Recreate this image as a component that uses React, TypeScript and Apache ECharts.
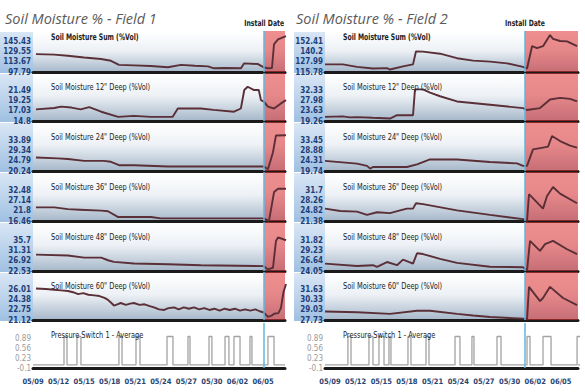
import React, { useEffect, useRef } from 'react';
import * as echarts from 'echarts';

// ---------- DATA ----------
const xTickDays = [0, 3, 6, 9, 12, 15, 18, 21, 24, 27];
const xTickLabels = ['05/09', '05/12', '05/15', '05/18', '05/21', '05/24', '05/27', '05/30', '06/02', '06/05'];

const fieldTitles = ['Soil Moisture % - Field 1', 'Soil Moisture % - Field 2'];
const installLabel = 'Install Date';
const installDays = [27.13, 22.8];

const rowTitles = [
  'Soil Moisture Sum (%Vol)',
  'Soil Moisture 12" Deep (%Vol)',
  'Soil Moisture 24" Deep (%Vol)',
  'Soil Moisture 36" Deep (%Vol)',
  'Soil Moisture 48" Deep (%Vol)',
  'Soil Moisture 60" Deep (%Vol)',
];
const pressureTitle = 'Pressure Switch 1 - Average';

const f1Ticks = [
  [97.79, 113.67, 129.55, 145.43],
  [14.8, 17.03, 19.25, 21.49],
  [20.24, 24.79, 29.34, 33.89],
  [16.46, 21.8, 27.14, 32.48],
  [22.53, 26.92, 31.31, 35.7],
  [21.12, 22.75, 24.38, 26.01],
];
const f2Ticks = [
  [115.78, 127.99, 140.2, 152.41],
  [19.26, 23.63, 27.98, 32.33],
  [19.74, 24.31, 28.88, 33.45],
  [21.38, 24.82, 28.26, 31.7],
  [24.05, 26.64, 29.23, 31.82],
  [27.73, 29.03, 30.33, 31.63],
];
const pressureTicks = [-0.1, 0.23, 0.56, 0.89];
const pulseHigh = 0.94;
const pulseLow = 0;

// Field 1 series: [day since 05/09, %Vol]
const f1Sum = [[0.35, 125.3], [2.5, 124.5], [4.07, 122.7], [6, 120], [7.98, 117.7], [9.15, 115], [10.09, 108.7], [11.85, 108], [13.8, 107], [15.85, 105], [17.37, 108.7], [19, 107.5], [20.54, 106.5], [21.24, 103.5], [22.5, 104], [24.41, 103.5], [24.77, 111], [26.41, 110], [27.1, 105], [27.58, 103.5], [28.05, 104], [28.29, 140.4], [28.76, 148], [29.7, 153]];
const f1D12 = [[0.35, 17.3], [2.5, 17.6], [3.3, 17.9], [4.5, 17.7], [5.6, 17.3], [6.6, 17.8], [8, 16.8], [10, 15.7], [11.85, 15.9], [13.85, 15.7], [16.4, 15.7], [17.0, 17.5], [19.7, 17.5], [21.2, 17.2], [23.6, 16.8], [24.4, 17.5], [24.8, 21.5], [25.2, 22.2], [25.9, 21.5], [26.5, 21.5], [26.76, 19.3], [27.1, 19.0], [27.58, 17.9], [28.3, 17.5], [29.1, 18.6], [29.7, 19.3]];
const f1D24 = [[0.35, 26.2], [2.9, 25.8], [4.1, 25.5], [6, 24.7], [8.3, 24.7], [9.15, 24.3], [10.1, 22.8], [11.85, 22.8], [15.85, 22.2], [19.7, 22.2], [27.1, 22.2], [27.58, 21.0], [28.17, 28.5], [28.52, 35.9], [29.7, 36.0]];
const f1D36 = [[0.35, 23.5], [2.5, 23.5], [4.1, 22.6], [5.5, 22.3], [8, 21.8], [8.8, 21.5], [10, 18.5], [13.85, 18.5], [15, 17.8], [27.1, 17.8], [27.7, 16.5], [28.3, 31.5], [28.76, 33.1], [29.7, 33.1]];
const f1D48 = [[0.35, 29.5], [4.1, 29.1], [6, 28.2], [8, 28.2], [8.8, 27.1], [9.5, 26.4], [11.85, 25.7], [15.85, 25.4], [19.7, 25.0], [27.1, 24.6], [27.58, 23.2], [28.17, 23.9], [28.52, 35.3], [28.76, 36.8], [29.7, 35.6]];
const f1D60 = [[0.35, 26.1], [1.5, 26.0], [2.5, 25.9], [3.3, 25.8], [4.1, 25.7], [4.7, 25.5], [5.3, 25.2], [5.9, 25.35], [6.5, 25.1], [7.2, 25.0], [7.8, 24.9], [8.4, 24.6], [8.8, 24.3], [9.2, 23.8], [9.5, 23.4], [9.9, 23.6], [10.3, 23.8], [10.9, 23.5], [11.4, 23.7], [11.85, 23.8], [12.5, 23.5], [13.1, 23.6], [13.7, 23.3], [14.2, 23.1], [14.8, 22.8], [15.4, 22.7], [15.9, 23.0], [16.55, 23.1], [17.1, 22.8], [17.7, 23.1], [18.3, 22.9], [18.9, 23.1], [19.5, 22.8], [20.1, 23.0], [20.7, 22.7], [21.3, 22.9], [21.9, 22.6], [22.5, 22.9], [23.1, 22.7], [23.7, 22.9], [24.3, 22.6], [24.9, 22.8], [25.5, 22.6], [26.1, 22.8], [26.6, 22.5], [27.1, 22.3], [27.58, 21.6], [28.0, 21.8], [28.3, 22.1], [28.8, 22.2], [29.1, 23.0], [29.4, 25.5], [29.7, 26.8]];

// Field 2 series
const f2Sum = [[-0.58, 124.8], [1.5, 124.8], [3.16, 121.9], [5.03, 119.9], [6.67, 120.3], [7.02, 118.7], [8.54, 122.5], [9.71, 124.8], [10.06, 140.2], [10.88, 139.8], [12.87, 137.4], [14.85, 132.1], [16.73, 129.2], [18.71, 128], [20.7, 126], [22.57, 121.9], [23.04, 119.9], [23.63, 146.3], [24.21, 144], [24.91, 146.3], [25.73, 159.4], [26.08, 155], [26.9, 152.4], [27.72, 152], [28.89, 146.3]];
const f2D12 = [[-0.58, 21.0], [1.5, 21.2], [2.3, 20.8], [3.16, 20.9], [5, 20.6], [7.02, 20.3], [7.84, 21.7], [9.71, 21.7], [9.94, 32.6], [10.88, 32.6], [11.7, 31.2], [12.87, 29.7], [14.85, 27.5], [18.71, 26.1], [22.57, 24.7], [23.04, 23.9], [24.56, 24.7], [25.73, 28.3], [26.9, 29.0], [28.07, 28.6], [28.89, 27.5]];
const f2D24 = [[-0.58, 24.2], [3.16, 23.0], [4.33, 22.0], [4.7, 20.8], [5.03, 21.5], [9.0, 21.5], [10.18, 22.7], [11.7, 24.9], [14.85, 24.8], [18.71, 23.7], [21.87, 23.1], [22.57, 22.0], [23.04, 22.0], [23.74, 29.3], [24.91, 30.1], [25.5, 30.5], [25.96, 35.2], [26.9, 33.0], [28.07, 31.0], [28.89, 30.1]];
const f2D36 = [[-0.58, 25.5], [1.2, 24.7], [3.16, 24.5], [4.33, 23.4], [5.5, 24.3], [7.02, 24.0], [8.2, 24.9], [9.0, 25.5], [9.71, 25.5], [10.06, 27.3], [10.88, 27.0], [14.85, 24.9], [18.71, 23.4], [22.57, 22.0], [23.04, 21.4], [23.27, 30.3], [24.91, 25.5], [25.38, 29.7], [26.08, 32.7], [26.9, 30.5], [28.89, 27.3]];
const f2D48 = [[-0.58, 25.9], [3.16, 25.3], [5.03, 25.5], [5.5, 25.1], [6.67, 26.3], [7.84, 25.5], [8.54, 26.9], [9.71, 25.9], [10.18, 28.5], [10.88, 28.3], [12.87, 27.1], [14.85, 26.1], [18.71, 25.1], [22.57, 25.0], [23.04, 24.2], [23.39, 31.6], [24.56, 29.1], [25.15, 30.8], [26.08, 31.6], [27.72, 29.5], [28.89, 28.3]];
const f2D60 = [[-0.58, 28.8], [3.16, 28.7], [7.02, 28.5], [10.18, 28.9], [11.7, 28.9], [14.85, 28.5], [16.73, 28.3], [18.71, 28.1], [22.57, 27.9], [23.04, 27.8], [23.27, 31.9], [24.56, 30.1], [24.91, 30.5], [25.73, 31.9], [27.25, 30.5], [28.89, 29.6]];

// Pressure switch "on" intervals [start day, end day]
const f1Pulses = [[3.64, 3.99], [5.16, 5.63], [10.09, 10.45], [12.09, 12.56], [15.73, 16.43], [18.19, 18.43], [20.66, 21.0], [22.54, 23.0], [23.59, 24.3], [25.47, 25.7], [27.58, 28.29]];
const f2Pulses = [[2.1, 2.46], [4.56, 5.03], [5.73, 6.32], [6.9, 7.13], [9.12, 9.47], [11.23, 11.58], [14.62, 15.2], [16.6, 16.84], [19.53, 20.0], [23.04, 23.39], [24.91, 25.85], [28.89, 29.5]];

const fieldTicks = [f1Ticks, f2Ticks];
const fieldSeries = [
  [f1Sum, f1D12, f1D24, f1D36, f1D48, f1D60],
  [f2Sum, f2D12, f2D24, f2D36, f2D48, f2D60],
];
const fieldPulses = [f1Pulses, f2Pulses];

// ---------- LAYOUT ----------
const LAYOUT = [
  { stripX: 0, left: 33, right: 285, xMin: 0, xMax: 29.58, titleX: 5, subX: 51 },
  { stripX: 294, left: 325, right: 578, xMin: -0.58, xMax: 29.0, titleX: 296, subX: 343 },
];
const ROW_TOP = [31, 73, 122, 172, 222, 272];
const ROW_BASE = [72, 121, 171, 221, 271, 320];
const P_TOP = 323;
const P_BASE = 368;
const TICK_SPAN = 31;
const P_TICK_SPAN = 30;
const NARROW = '"DejaVu Sans Condensed", "DejaVu Sans", sans-serif';

function pulseData(pulses: number[][], xMin: number, xMax: number) {
  const out: number[][] = [[xMin, pulseLow]];
  pulses.forEach(([s, e]) => {
    out.push([s, pulseLow], [s, pulseHigh], [e, pulseHigh], [e, pulseLow]);
  });
  out.push([xMax, pulseLow]);
  return out;
}

function buildOption() {
  const grid: any[] = [];
  const xAxis: any[] = [];
  const yAxis: any[] = [];
  const series: any[] = [];
  const graphic: any[] = [];

  const stripGrad = () =>
    new echarts.graphic.LinearGradient(0, 0, 0, 1, [
      { offset: 0, color: '#d9e6f5' },
      { offset: 1, color: '#9fc0e2' },
    ]);
  const plotGrad = () =>
    new echarts.graphic.LinearGradient(0, 0, 0, 1, [
      { offset: 0, color: '#ffffff' },
      { offset: 0.45, color: '#edf1f5' },
      { offset: 1, color: '#a3b5c8' },
    ]);

  LAYOUT.forEach((L, f) => {
    const plotW = L.right - L.left;
    const installPx = L.left + ((installDays[f] - L.xMin) / (L.xMax - L.xMin)) * plotW;

    graphic.push({
      type: 'text', x: L.titleX, y: 18.5, z: 10,
      style: { text: fieldTitles[f], fill: '#5a5a5a', font: 'italic 14.5px "Open Sans", sans-serif', verticalAlign: 'middle' },
    });
    graphic.push({
      type: 'text', x: installPx, y: 23, z: 10, scaleX: 0.8,
      style: { text: installLabel, fill: '#222', font: `bold 8.5px ${NARROW}`, align: 'center', verticalAlign: 'middle' },
    });

    for (let r = 0; r < 7; r++) {
      const isP = r === 6;
      const top = isP ? P_TOP : ROW_TOP[r];
      const base = isP ? P_BASE : ROW_BASE[r];
      const h = base - top;
      const ticks = isP ? pressureTicks : fieldTicks[f][r];
      const span = isP ? P_TICK_SPAN : TICK_SPAN;
      const yMin = ticks[0];
      const yMax = ticks[0] + (h / span) * (ticks[3] - ticks[0]);
      const gi = grid.length;

      if (!isP) {
        graphic.push({
          type: 'rect', z: -10,
          shape: { x: L.stripX, y: top + 1, width: L.left - L.stripX, height: h },
          style: { fill: stripGrad() },
        });
        graphic.push({
          type: 'rect', z: -10,
          shape: { x: L.left, y: top + 1, width: plotW, height: h },
          style: { fill: plotGrad() },
        });
      }
      graphic.push({
        type: 'text', x: L.subX, y: isP ? 334.5 : base - 34.5, z: 10,
        scaleX: r === 0 ? 0.76 : 0.82,
        style: {
          text: isP ? pressureTitle : rowTitles[r],
          fill: '#222',
          font: `${r === 0 ? 'bold ' : ''}9px ${NARROW}`,
          verticalAlign: 'middle',
        },
      });

      grid.push({ left: L.left, top, width: plotW, height: h, containLabel: false });
      xAxis.push({
        type: 'value', gridIndex: gi, min: L.xMin, max: L.xMax,
        axisLine: { show: true, onZero: false, lineStyle: { color: '#1b1b1b', width: 3 } },
        axisTick: { show: false },
        splitLine: { show: false },
        axisLabel: isP
          ? {
              show: true,
              customValues: xTickDays,
              formatter: (v: number) => {
                const i = xTickDays.indexOf(v);
                return i >= 0 ? xTickLabels[i] : '';
              },
              color: '#2a4470',
              fontFamily: NARROW,
              fontWeight: 'bold',
              fontSize: 7.5,
              margin: 9,
            }
          : { show: false },
      });
      yAxis.push({
        type: 'value', gridIndex: gi, min: yMin, max: yMax,
        axisLine: { show: false },
        axisTick: { show: false },
        splitLine: { show: false },
        axisLabel: {
          show: true,
          customValues: ticks,
          formatter: (v: number) => String(v),
          color: isP ? '#9a9a9a' : '#1d3e78',
          fontFamily: NARROW,
          fontWeight: isP ? 'normal' : 'bold',
          fontSize: 8,
          margin: 2,
        },
      });

      const s: any = {
        type: 'line', xAxisIndex: gi, yAxisIndex: gi,
        data: isP ? pulseData(fieldPulses[f], L.xMin, L.xMax) : fieldSeries[f][r],
        symbol: 'none',
        lineStyle: isP ? { color: '#a3a3a3', width: 1.3 } : { color: '#5a2f37', width: 1.9 },
        silent: true,
        markLine: {
          silent: true, symbol: ['none', 'none'],
          label: { show: false },
          lineStyle: { color: '#5fb6df', width: 1.5, type: 'solid' },
          data: [{ xAxis: installDays[f] }],
        },
      };
      if (!isP) {
        s.markArea = {
          silent: true,
          itemStyle: { color: 'rgba(224,50,50,0.55)' },
          data: [[{ xAxis: installDays[f] }, { xAxis: L.xMax }]],
        };
      }
      series.push(s);
    }
  });

  return { animation: false, backgroundColor: '#ffffff', grid, xAxis, yAxis, series, graphic };
}

export default function App() {
  const ref = useRef<HTMLDivElement>(null);
  useEffect(() => {
    document.body.style.margin = '0';
    const chart = echarts.init(ref.current!, undefined, { renderer: 'svg' });
    chart.setOption(buildOption() as any);
    return () => chart.dispose();
  }, []);
  return <div ref={ref} style={{ width: 585, height: 392 }} />;
}
